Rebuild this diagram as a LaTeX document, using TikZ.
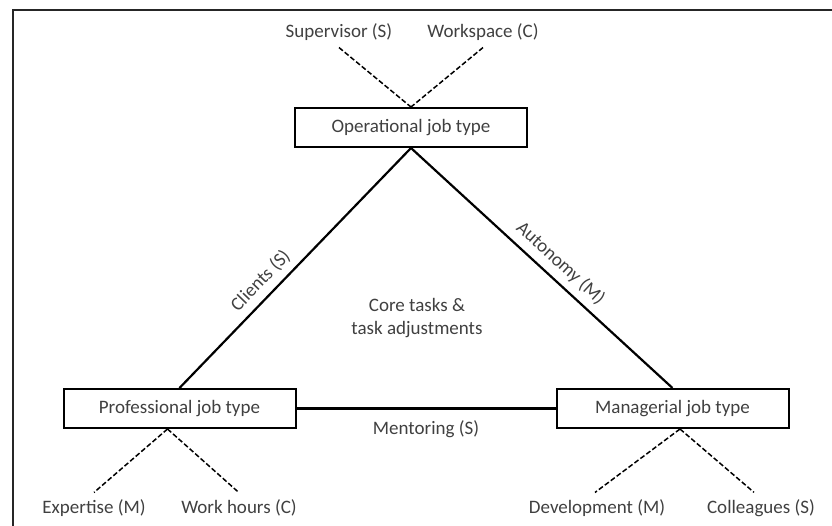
\documentclass[tikz,border=0pt]{standalone}
\usepackage{fontspec}
\setmainfont{Carlito}
\usetikzlibrary{calc}
\definecolor{txtgray}{RGB}{64,64,64}

\begin{document}
\begin{tikzpicture}[x=0.5pt,y=-0.5pt,
  font=\fontsize{9.5}{11.5}\selectfont, text=txtgray,
  jobtype/.style={draw=black,line width=1pt,minimum width=116pt,minimum height=19.5pt,inner sep=0pt},
  tie/.style={line width=1.1pt},
  loose/.style={line width=0.75pt,dash pattern=on 2.5pt off 1.2pt}]
\useasboundingbox (0,0) rectangle (832,526);
\draw [line width=1.2pt,black!85] (13,526)--(13,10)--(832,10);

\node [jobtype] (oper) at (411,127.5) {Operational job type};
\node [jobtype] (prof) at (179.5,408.5) {Professional job type};
\node [jobtype] (mana) at (672.5,408.5) {Managerial job type};

\draw [tie] (oper.south)-- node [pos=0.6,above,sloped]{Clients (S)}(prof.north);
\draw [tie] (oper.south)-- node [pos=0.53,above,sloped]{Autonomy (M)}(mana.north);
\draw [tie] (prof.east)-- node [midway,below,yshift=-2pt]{Mentoring (S)}(mana.west);

\node [align=center] (core) at (417,318) {Core tasks \&\\task adjustments};

\node (superv) at (339,32) {Supervisor (S)};
\node (works) at (483,32) {Workspace (C)};
\node (expert) at (94,508) {Expertise (M)};
\node (hours) at (239,508) {Work hours (C)};
\node (devel) at (597,508) {Development (M)};
\node (colleag) at (761,508) {Colleagues (S)};

\draw [loose] (superv.south)--(oper.north);
\draw [loose] (works.south)--(oper.north);
\draw [loose] ([xshift=-6pt]prof.south)--(expert.north);
\draw [loose] ([xshift=-6pt]prof.south)--(hours.north);
\draw [loose] ([xshift=3.75pt]mana.south)--([xshift=-1pt]devel.north);
\draw [loose] ([xshift=3.75pt]mana.south)--([xshift=-3.5pt]colleag.north);
\end{tikzpicture}
\end{document}
